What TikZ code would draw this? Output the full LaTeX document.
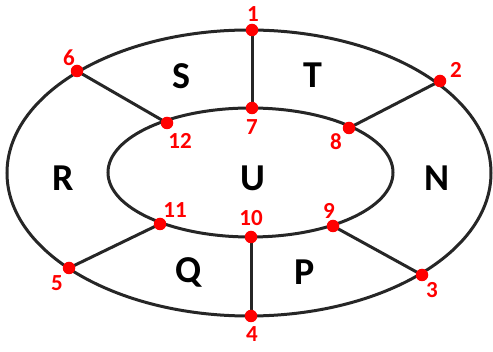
\documentclass[tikz,border=0pt]{standalone}
\usepackage{fontspec}
\setmainfont{Carlito}
\begin{document}
\begin{tikzpicture}[x=1pt,y=-1pt,
  edge/.style={line width=3pt,black!85},
  dot/.style={circle,fill=red,inner sep=0pt,minimum size=12.5pt},
  num/.style={text=red,font=\fontsize{23}{23}\selectfont\bfseries,inner sep=0pt},
  region/.style={font=\fontsize{38}{38}\selectfont\bfseries,inner sep=0pt}]
\useasboundingbox (0,0) rectangle (493,352);
\draw[edge] (249,173) ellipse [x radius=242, y radius=143];
\draw[edge] (250.5,172.5) ellipse [x radius=142.5, y radius=64.5];
\coordinate (p1) at (252,30);
\coordinate (p2) at (440,81);
\coordinate (p3) at (422,275);
\coordinate (p4) at (251,316);
\coordinate (p5) at (69,268);
\coordinate (p6) at (77,71);
\coordinate (p7) at (252,108);
\coordinate (p8) at (349,128);
\coordinate (p9) at (333,226);
\coordinate (p10) at (251,237);
\coordinate (p11) at (160,224);
\coordinate (p12) at (167,123);
\draw[edge] (p1) -- (p7);
\draw[edge] (p2) -- (p8);
\draw[edge] (p3) -- (p9);
\draw[edge] (p4) -- (p10);
\draw[edge] (p5) -- (p11);
\draw[edge] (p6) -- (p12);
\foreach \i in {1,...,12} {\node[dot] (d\i) at (p\i) {};}
\node[num] (l1) at (253,14) {1};
\node[num] (l2) at (456,70) {2};
\node[num] (l3) at (432,290) {3};
\node[num] (l4) at (252,334) {4};
\node[num] (l5) at (57,283) {5};
\node[num] (l6) at (69,58) {6};
\node[num] (l7) at (252,127) {7};
\node[num] (l8) at (336,142) {8};
\node[num] (l9) at (329,211) {9};
\node[num] (l10) at (251,218) {10};
\node[num] (l11) at (175,210) {11};
\node[num] (l12) at (180,141) {12};
\node[region] (S) at (181,76) {S};
\node[region] (T) at (313,75) {T};
\node[region] (R) at (63,178) {R};
\node[region] (U) at (253,178) {U};
\node[region] (N) at (437,178) {N};
\node[region] (Q) at (189,272) {Q};
\node[region] (P) at (305,272) {P};
\end{tikzpicture}
\end{document}
